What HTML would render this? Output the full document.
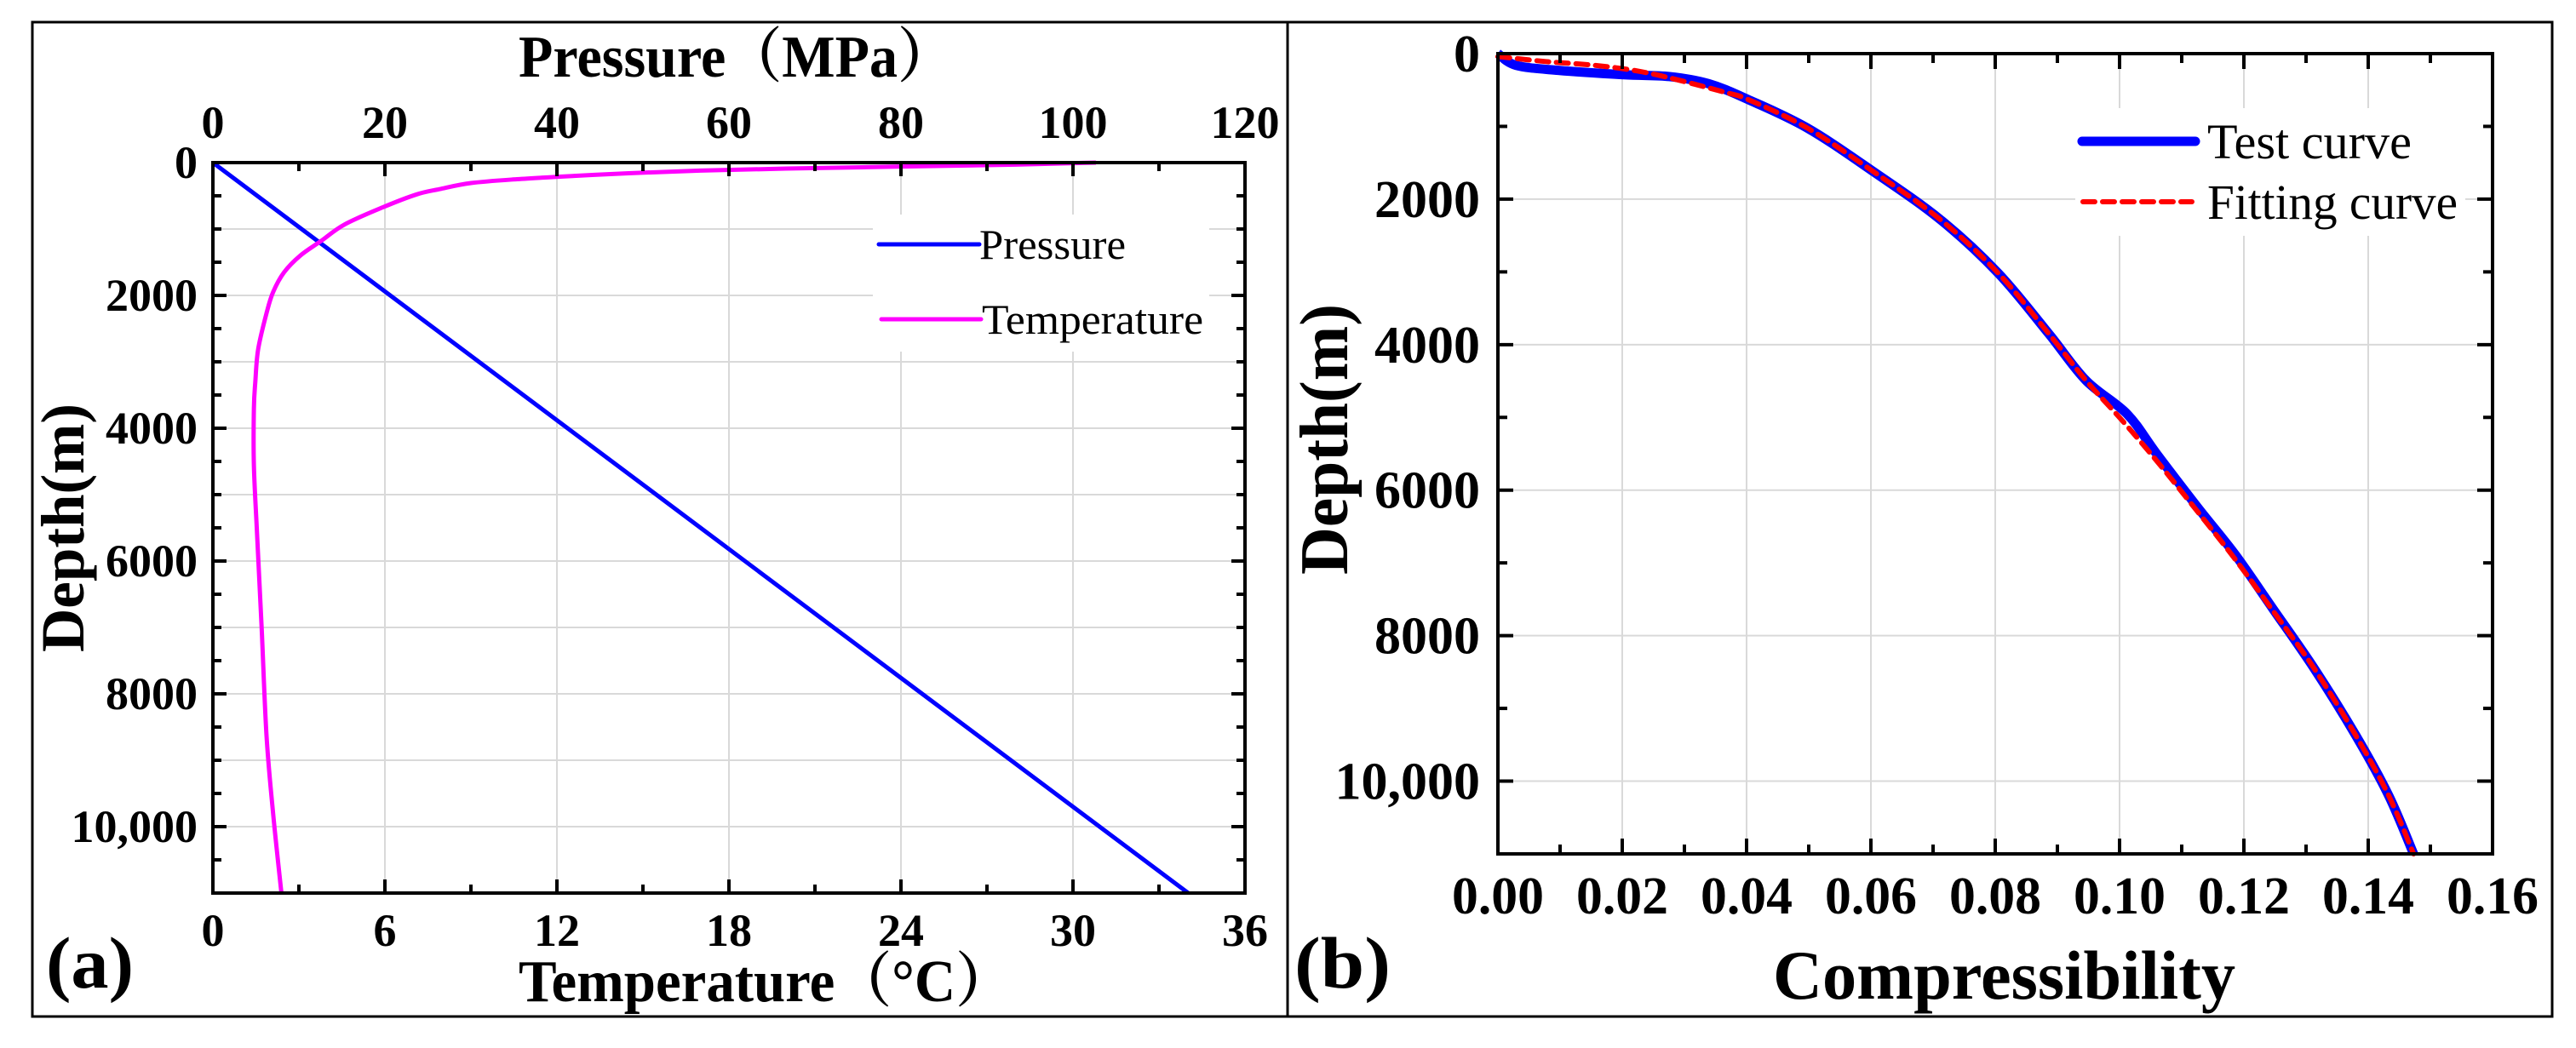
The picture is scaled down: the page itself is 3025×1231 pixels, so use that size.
<!DOCTYPE html>
<html><head><meta charset="utf-8"><style>
html,body{margin:0;padding:0;background:#fff;}
svg{display:block;font-family:"Liberation Serif","Noto Serif CJK SC",serif;}
</style></head><body>
<svg id="fig" width="3025" height="1231" viewBox="0 0 3025 1231" xmlns="http://www.w3.org/2000/svg">
<rect x="0" y="0" width="3025" height="1231" fill="#fff"/>
<rect x="38" y="26" width="2959" height="1168" fill="none" stroke="#000" stroke-width="3"/>
<line x1="1512" y1="26" x2="1512" y2="1194" stroke="#000" stroke-width="3"/>
<g id="panelA"></g>
<g id="panelB"></g>
</svg>
<script>
// ---- Panel (a) data ----
const depthTicksA = [0, 2000, 4000, 6000, 8000, 10000];
const depthTickLabelsA = ["0", "2000", "4000", "6000", "8000", "10,000"];
const pressureTicks = [0, 20, 40, 60, 80, 100, 120];
const tempTicks = [0, 6, 12, 18, 24, 30, 36];
const pressureDepth = [0, 11000];
const pressureValues = [0, 113.4];
const tempDepth = [0, 30, 60, 90, 120, 160, 200, 250, 308, 400, 480, 671, 930, 1184, 1400, 1654, 1950, 2252, 2808, 3300, 3705, 4560, 5586, 7000, 8627, 9800, 11000];
const tempValues = [30.8, 28, 24, 20, 17, 14.5, 12.6, 10.6, 9.0, 7.9, 7.1, 5.94, 4.6, 3.76, 3.05, 2.48, 2.1, 1.88, 1.58, 1.48, 1.43, 1.43, 1.54, 1.7, 1.87, 2.1, 2.39];
// ---- Panel (b) data ----
const depthTicksB = [0, 2000, 4000, 6000, 8000, 10000];
const depthTickLabelsB = ["0", "2000", "4000", "6000", "8000", "10,000"];
const compTicks = [0, 0.02, 0.04, 0.06, 0.08, 0.10, 0.12, 0.14, 0.16];
const compTickLabels = ["0.00", "0.02", "0.04", "0.06", "0.08", "0.10", "0.12", "0.14", "0.16"];
const testComp = [0, 0.0029, 0.0097, 0.0203, 0.0276, 0.0339, 0.0402, 0.0497, 0.0601, 0.0712, 0.0805, 0.0886, 0.0946, 0.1012, 0.106, 0.1126, 0.1186, 0.1246, 0.1313, 0.138, 0.1433, 0.1473];
const testDepth = [0, 160, 230, 290, 315, 413, 629, 1019, 1604, 2283, 3019, 3848, 4492, 4952, 5505, 6241, 6886, 7622, 8450, 9371, 10199, 11000];
const fitComp = [0, 0.0077, 0.0155, 0.0224, 0.0287, 0.0365, 0.0402, 0.0497, 0.0601, 0.0712, 0.0805, 0.0886, 0.0946, 0.1005, 0.106, 0.1126, 0.1186, 0.1246, 0.1313, 0.138, 0.1433, 0.1473];
const fitDepth = [40, 109, 160, 238, 356, 531, 629, 1019, 1604, 2283, 3019, 3848, 4492, 5050, 5600, 6300, 6950, 7650, 8450, 9371, 10199, 11000];

const NS = "http://www.w3.org/2000/svg";
function mk(parent, tag, attrs, text) {
  const e = document.createElementNS(NS, tag);
  for (const k in attrs) e.setAttribute(k, attrs[k]);
  if (text !== undefined) e.textContent = text;
  parent.appendChild(e);
  return e;
}
function lin(d0, d1, r0, r1) { return v => r0 + (v - d0) / (d1 - d0) * (r1 - r0); }
function smoothPath(pts) {
  let d = 'M' + pts[0][0] + ',' + pts[0][1];
  for (let i = 0; i < pts.length - 1; i++) {
    const p0 = pts[Math.max(0, i - 1)], p1 = pts[i], p2 = pts[i + 1], p3 = pts[Math.min(pts.length - 1, i + 2)];
    const c1x = p1[0] + (p2[0] - p0[0]) / 6, c1y = p1[1] + (p2[1] - p0[1]) / 6;
    const c2x = p2[0] - (p3[0] - p1[0]) / 6, c2y = p2[1] - (p3[1] - p1[1]) / 6;
    d += ' C' + c1x + ',' + c1y + ' ' + c2x + ',' + c2y + ' ' + p2[0] + ',' + p2[1];
  }
  return d;
}

// ===== Panel A =====
(function () {
  const g = document.getElementById('panelA');
  const L = 250, R = 1462, T = 191, B = 1049;
  const y = lin(0, 11000, T, B);
  const xp = lin(0, 120, L, R);
  const xt = lin(0, 36, L, R);
  const grid = mk(g, 'g', {});
  
  
  for (let d = 1000; d < 11000; d += 1000) {
    const l = mk(grid, 'line', {x1: L, x2: R, y1: y(d), y2: y(d), stroke: '#d9d9d9', 'stroke-width': 2});
    
    
  }
  for (let p = 20; p < 120; p += 20) {
    const l = mk(grid, 'line', {x1: xp(p), x2: xp(p), y1: T, y2: B, stroke: '#d9d9d9', 'stroke-width': 2});
    
    
  }
  const lb = mk(g, 'rect', {x: 1025, y: 252, width: 395, height: 161, fill: '#fff'});
  
  
  const pp = mk(g, 'polyline', {points: pressureDepth.map((d, i) => xp(pressureValues[i]) + ',' + y(d)).join(' '), fill: 'none', stroke: '#0000ff', 'stroke-width': 5});
  
  
  const tp = mk(g, 'path', {d: smoothPath(tempDepth.map((d, i) => [xt(tempValues[i]), y(d)])), fill: 'none', stroke: '#ff00ff', 'stroke-width': 5, 'stroke-linejoin': 'round'});
  
  
  const fr = mk(g, 'rect', {x: L, y: T, width: R - L, height: B - T, fill: 'none', stroke: '#000', 'stroke-width': 4});
  
  
  for (let d = 0; d <= 11000; d += 500) {
    const len = d % 2000 === 0 ? 16 : 10;
    mk(g, 'line', {x1: L, x2: L + len, y1: y(d), y2: y(d), stroke: '#000', 'stroke-width': 4});
    mk(g, 'line', {x1: R, x2: R - len, y1: y(d), y2: y(d), stroke: '#000', 'stroke-width': 4});
  }
  for (let p = 0; p <= 120; p += 10) {
    const len = p % 20 === 0 ? 16 : 10;
    mk(g, 'line', {x1: xp(p), x2: xp(p), y1: T, y2: T + len, stroke: '#000', 'stroke-width': 4});
    mk(g, 'line', {x1: xp(p), x2: xp(p), y1: B, y2: B - len, stroke: '#000', 'stroke-width': 4});
  }
  depthTicksA.forEach((d, i) => {
    const t = mk(g, 'text', {x: 232, y: y(d) + 18, 'text-anchor': 'end', 'font-size': 54, 'font-weight': 'bold'}, depthTickLabelsA[i]);
    
    
  });
  pressureTicks.forEach(p => {
    const t = mk(g, 'text', {x: xp(p), y: 162, 'text-anchor': 'middle', 'font-size': 54, 'font-weight': 'bold'}, String(p));
    
    
  });
  tempTicks.forEach(v => {
    const t = mk(g, 'text', {x: xt(v), y: 1111, 'text-anchor': 'middle', 'font-size': 54, 'font-weight': 'bold'}, String(v));
    
    
  });
  const t1 = mk(g, 'text', {x: 609, y: 90, 'font-size': 70, 'font-weight': 'bold', textLength: 511, lengthAdjust: 'spacingAndGlyphs'}, 'Pressure（MPa）');
  
  
  const t2 = mk(g, 'text', {x: 609, y: 1176, 'font-size': 70, 'font-weight': 'bold', textLength: 580, lengthAdjust: 'spacingAndGlyphs'}, 'Temperature（°C）');
  
  
  const t3 = mk(g, 'text', {x: 0, y: 0, 'font-size': 72, 'font-weight': 'bold', textLength: 292, lengthAdjust: 'spacingAndGlyphs', 'text-anchor': 'middle', transform: 'translate(98,620) rotate(-90)'}, 'Depth(m)');
  
  
  const t4 = mk(g, 'text', {x: 54, y: 1160, 'font-size': 86, 'font-weight': 'bold', textLength: 103, lengthAdjust: 'spacingAndGlyphs'}, '(a)');
  
  
  const le1 = mk(g, 'line', {x1: 1032, x2: 1150, y1: 287, y2: 287, stroke: '#0000ff', 'stroke-width': 5, 'stroke-linecap': 'round'});
  
  
  const lt1 = mk(g, 'text', {x: 1150, y: 304, 'font-size': 50, textLength: 172, lengthAdjust: 'spacingAndGlyphs'}, 'Pressure');
  
  
  const le2 = mk(g, 'line', {x1: 1035, x2: 1152, y1: 375, y2: 375, stroke: '#ff00ff', 'stroke-width': 5, 'stroke-linecap': 'round'});
  
  
  const lt2 = mk(g, 'text', {x: 1153, y: 392, 'font-size': 50, textLength: 260, lengthAdjust: 'spacingAndGlyphs'}, 'Temperature');
  
  
})();

// ===== Panel B =====
(function () {
  const g = document.getElementById('panelB');
  const L = 1759, R = 2927, T = 63, B = 1003;
  const y = lin(0, 11000, T, B);
  const x = lin(0, 0.16, L, R);
  const grid = mk(g, 'g', {});
  
  
  for (let d = 2000; d < 11000; d += 2000) {
    const l = mk(grid, 'line', {x1: L, x2: R, y1: y(d), y2: y(d), stroke: '#d9d9d9', 'stroke-width': 2});
    
    
  }
  for (let i = 1; i < 8; i++) {
    const l = mk(grid, 'line', {x1: x(compTicks[i]), x2: x(compTicks[i]), y1: T, y2: B, stroke: '#d9d9d9', 'stroke-width': 2});
    
    
  }
  const lb = mk(g, 'rect', {x: 2437, y: 127, width: 458, height: 150, fill: '#fff'});
  
  
  const tc = mk(g, 'path', {d: smoothPath(testComp.map((c, i) => [x(c), y(testDepth[i])])), fill: 'none', stroke: '#0000ff', 'stroke-width': 11, 'stroke-linejoin': 'round'});
  
  
  const fc = mk(g, 'path', {d: smoothPath(fitComp.map((c, i) => [x(c), y(fitDepth[i])])), fill: 'none', stroke: '#ff0000', 'stroke-width': 6, 'stroke-dasharray': '14,9', 'stroke-linecap': 'round'});
  
  
  const fr = mk(g, 'rect', {x: L, y: T, width: R - L, height: B - T, fill: 'none', stroke: '#000', 'stroke-width': 4});
  
  
  for (let d = 0; d <= 11000; d += 1000) {
    const len = d % 2000 === 0 ? 18 : 11;
    mk(g, 'line', {x1: L, x2: L + len, y1: y(d), y2: y(d), stroke: '#000', 'stroke-width': 4});
    mk(g, 'line', {x1: R, x2: R - len, y1: y(d), y2: y(d), stroke: '#000', 'stroke-width': 4});
  }
  for (let i = 0; i <= 16; i++) {
    const len = i % 2 === 0 ? 18 : 11;
    const xx = x(i * 0.01);
    mk(g, 'line', {x1: xx, x2: xx, y1: T, y2: T + len, stroke: '#000', 'stroke-width': 4});
    mk(g, 'line', {x1: xx, x2: xx, y1: B, y2: B - len, stroke: '#000', 'stroke-width': 4});
  }
  depthTicksB.forEach((d, i) => {
    const t = mk(g, 'text', {x: 1738, y: y(d) + 21, 'text-anchor': 'end', 'font-size': 62, 'font-weight': 'bold'}, depthTickLabelsB[i]);
    
    
  });
  compTicks.forEach((c, i) => {
    const t = mk(g, 'text', {x: x(c), y: 1073, 'text-anchor': 'middle', 'font-size': 62, 'font-weight': 'bold', textLength: 108, lengthAdjust: 'spacingAndGlyphs'}, compTickLabels[i]);
    
    
  });
  const t1 = mk(g, 'text', {x: 2082, y: 1173, 'font-size': 82, 'font-weight': 'bold', textLength: 543, lengthAdjust: 'spacingAndGlyphs'}, 'Compressibility');
  
  
  const t3 = mk(g, 'text', {x: 0, y: 0, 'font-size': 80, 'font-weight': 'bold', textLength: 318, lengthAdjust: 'spacingAndGlyphs', 'text-anchor': 'middle', transform: 'translate(1582,516) rotate(-90)'}, 'Depth(m)');
  
  
  const t4 = mk(g, 'text', {x: 1520, y: 1160, 'font-size': 86, 'font-weight': 'bold', textLength: 113, lengthAdjust: 'spacingAndGlyphs'}, '(b)');
  
  
  const le1 = mk(g, 'line', {x1: 2445, x2: 2578, y1: 166, y2: 166, stroke: '#0000ff', 'stroke-width': 11, 'stroke-linecap': 'round'});
  
  
  const lt1 = mk(g, 'text', {x: 2592, y: 186, 'font-size': 58, textLength: 240, lengthAdjust: 'spacingAndGlyphs'}, 'Test curve');
  
  
  const le2 = mk(g, 'line', {x1: 2446, x2: 2574, y1: 237, y2: 237, stroke: '#ff0000', 'stroke-width': 6, 'stroke-dasharray': '14,9', 'stroke-linecap': 'round'});
  
  
  const lt2 = mk(g, 'text', {x: 2592, y: 257, 'font-size': 58, textLength: 294, lengthAdjust: 'spacingAndGlyphs'}, 'Fitting curve');
  
  
})();
</script>
</body></html>
